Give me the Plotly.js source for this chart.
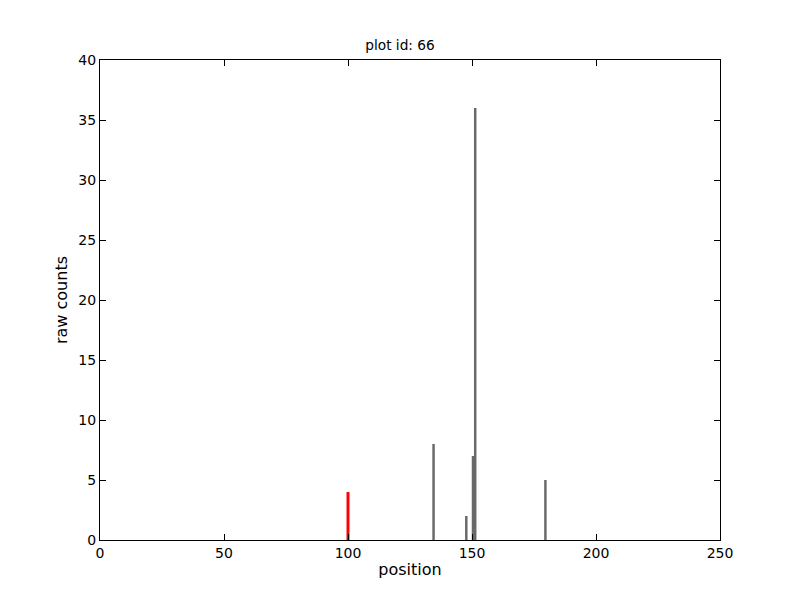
<!DOCTYPE html>
<html>
<head>
<meta charset="utf-8">
<script src="https://cdn.plot.ly/plotly-3.0.1.min.js"></script>
<style>body{margin:0;padding:0;background:#fff;}#chart{width:800px;height:600px;}</style>
</head>
<body>
<div id="chart"></div>
<script>
const highlightPositions = [100];
const highlightCounts = [4];
const otherPositions = [134, 147.2, 149.9, 150.8, 179.1];
const otherCounts = [8, 2, 7, 36, 5];
const xTicks = [0, 50, 100, 150, 200, 250];
const yTicks = [0, 5, 10, 15, 20, 25, 30, 35, 40];

const font = {family: "DejaVu Sans", size: 14, color: "#000"};
const labelFont = {family: "DejaVu Sans", size: 16, color: "#000"};

const traces = [
  {type: "bar", x: otherPositions, y: otherCounts, width: 1, offset: 0,
   marker: {color: "#696969", line: {width: 0}}, hoverinfo: "x+y"},
  {type: "bar", x: highlightPositions, y: highlightCounts, width: 1.2,
   marker: {color: "#ff0000", line: {width: 0}}, hoverinfo: "x+y"}
];

const axisCommon = {
  showgrid: false, zeroline: false, showline: true, linecolor: "#000", linewidth: 1,
  mirror: "ticks", ticks: "inside", ticklen: 6, tickcolor: "#000", tickwidth: 1,
  tickfont: font
};

const layout = {
  width: 800, height: 600,
  margin: {l: 100, r: 80, t: 60, b: 60},
  paper_bgcolor: "#fff", plot_bgcolor: "#fff",
  showlegend: false, barmode: "overlay",
  font: font,
  title: {text: "plot id: 66", font: {family: "DejaVu Sans", size: 13.7, color: "#000"}, x: 0.5, xanchor: "center", y: 0.925, yanchor: "middle"},
  xaxis: Object.assign({}, axisCommon, {range: [0, 250], tickvals: xTicks, ticktext: xTicks.map(String),
    title: {text: "position", font: labelFont, standoff: 4}}),
  yaxis: Object.assign({}, axisCommon, {range: [0, 40], tickvals: yTicks, ticktext: yTicks.map(String),
    title: {text: "raw counts", font: labelFont, standoff: 6}})
};

Plotly.newPlot("chart", traces, layout, {displayModeBar: false, staticPlot: true});
</script>
</body>
</html>
